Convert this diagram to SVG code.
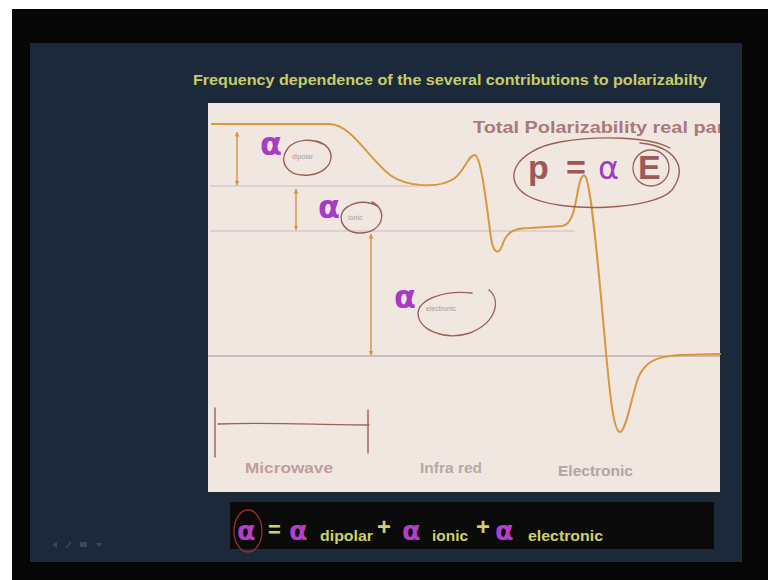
<svg xmlns="http://www.w3.org/2000/svg" width="768" height="580" viewBox="0 0 768 580">
<defs>
<style>
.curve{fill:none;stroke:#d9973f;stroke-width:2;stroke-linejoin:round;stroke-linecap:round}
.guide{stroke:#c9bcc0;stroke-width:1}
.arr{stroke:#d9954a;stroke-width:1.5;fill:none;marker-start:url(#ah);marker-end:url(#ah)}
.ink{fill:none;stroke:#9b5f58;stroke-width:1.4;stroke-linecap:round}
.alpha{font-family:"DejaVu Sans","Liberation Sans",sans-serif;fill:#a53cc4;font-weight:bold}
.sub{font-family:"Liberation Sans",sans-serif;font-size:7px;fill:#a89a9a}
.lab{font-family:"Liberation Sans",sans-serif;font-size:15px;font-weight:bold}
.big{font-family:"Liberation Sans",sans-serif;font-size:34px;font-weight:bold;fill:#9a5a5a}
.fy{font-family:"Liberation Sans",sans-serif;fill:#cfd06a;font-weight:bold}
.fa{font-family:"DejaVu Sans","Liberation Sans",sans-serif;fill:#b43ec8;font-size:27px;font-weight:bold}
</style>
<marker id="ah" viewBox="0 0 10 10" refX="9" refY="5" markerWidth="5" markerHeight="5" orient="auto-start-reverse" markerUnits="userSpaceOnUse">
<path d="M0 0 L10 5 L0 10 z" fill="#d9954a"/>
</marker>
<clipPath id="panelclip"><rect x="208" y="103" width="512" height="389"/></clipPath>
</defs>

<rect width="768" height="580" fill="#ffffff"/>
<rect x="12" y="9" width="756" height="571" fill="#060606"/>
<g id="slide">
<rect x="30" y="43" width="712" height="519" fill="#1c293b"/>
</g>

<g id="title">
<text x="193" y="85" font-family="Liberation Sans, Arial, sans-serif" font-size="14" font-weight="bold" fill="#c6cd68" textLength="514" lengthAdjust="spacingAndGlyphs">Frequency dependence of the several contributions to polarizabilty</text>
</g>

<g id="panel">
<rect x="208" y="103" width="512" height="389" fill="#f1e7e1"/>
<line class="guide" x1="210" y1="186" x2="420" y2="186"/>
<line class="guide" x1="210" y1="231" x2="575" y2="231"/>
<line x1="208" y1="356" x2="720" y2="356" stroke="#a58f95" stroke-width="1"/>
</g>

<g id="curve">
<path class="curve" d="M212 124 L330 124 C352 125 368 158 390 175 C405 186 438 190 455 178 C465 170 469 154 475 155 C481 157 486 200 491 238 C493 252 498 256 502 246 C506 233 512 228 530 228 L562 226 C572 225 575 208 578 190 C580 180 582 174 585 176 C590 180 596 240 604 330 C610 400 614 432 620 432 C626 432 632 395 638 378 C645 362 656 356 680 355 L720 354"/>
</g>

<g id="connectors">
<line class="arr" x1="237" y1="132" x2="237" y2="185"/>
<line class="arr" x1="296" y1="189" x2="296" y2="230"/>
<line class="arr" x1="371" y1="234" x2="371" y2="355"/>
</g>

<g id="alpha-dipolar">
<text class="alpha" x="260" y="155" font-size="32">α</text>
<path class="ink" d="M316 141 C338 146 336 172 309 175 C286 177 278 161 288 148 C296 139 312 138 322 144"/>
<text class="sub" x="292" y="159">dipolar</text>
</g>

<g id="alpha-ionic">
<text class="alpha" x="318" y="218" font-size="32">α</text>
<path class="ink" d="M372 202 C389 210 383 234 359 233 C340 232 335 213 349 206 C357 201 369 201 377 206"/>
<text class="sub" x="348" y="220">ionic</text>
</g>

<g id="alpha-electronic">
<text class="alpha" x="394" y="308" font-size="32">α</text>
<path class="ink" d="M489 290 C501 300 497 322 470 333 C445 341 418 330 418 313 C419 299 445 290 472 293"/>
<text class="sub" x="426" y="311">electronic</text>
</g>

<g id="total-label" clip-path="url(#panelclip)">
<text x="473" y="133" font-family="Liberation Sans, Arial, sans-serif" font-size="17" font-weight="bold" fill="#a87a7a" textLength="258" lengthAdjust="spacingAndGlyphs">Total Polarizability real part</text>
</g>

<g id="equation-p">
<text class="big" x="528" y="179">p</text>
<text class="big" x="566" y="179">=</text>
<text x="598" y="179" font-family="DejaVu Sans, Liberation Sans, sans-serif" font-size="32" fill="#a03cc0">α</text>
<text class="big" x="638" y="179">E</text>
<circle cx="651" cy="168" r="18" fill="none" stroke="#9b5f58" stroke-width="1.3"/>
<path class="ink" d="M640 143 C672 146 690 165 672 190 C655 210 560 214 528 196 C500 180 515 150 560 142 C600 135 650 137 670 148"/>
</g>

<g id="range-bracket">
<path class="ink" stroke="#a54f55" d="M215 408 L215 457 M218 424 C270 422 320 425 369 425 M368 410 L368 453"/>
</g>

<g id="axis-labels">
<text class="lab" x="245" y="473" fill="#c29c9e" textLength="88" lengthAdjust="spacingAndGlyphs">Microwave</text>
<text class="lab" x="420" y="473" fill="#b9a8a8" font-weight="normal" textLength="62" lengthAdjust="spacingAndGlyphs">Infra red</text>
<text class="lab" x="558" y="476" fill="#b3a3a3" font-weight="normal" textLength="75" lengthAdjust="spacingAndGlyphs">Electronic</text>
</g>

<g id="formula">
<rect x="230" y="502" width="484" height="47" fill="#0a0a0b"/>
<text class="fa" x="237" y="540">α</text>
<ellipse cx="248" cy="531" rx="14" ry="21" fill="none" stroke="#9a2e2e" stroke-width="1.3"/>
<text class="fy" x="268" y="537" font-size="22">=</text>
<text class="fa" x="289" y="540">α</text>
<text class="fy" x="320" y="541" font-size="15" textLength="53" lengthAdjust="spacingAndGlyphs">dipolar</text>
<text class="fy" x="377" y="535" font-size="24">+</text>
<text class="fa" x="402" y="540">α</text>
<text class="fy" x="432" y="541" font-size="15" textLength="36" lengthAdjust="spacingAndGlyphs">ionic</text>
<text class="fy" x="476" y="535" font-size="24">+</text>
<text class="fa" x="495" y="540">α</text>
<text class="fy" x="528" y="541" font-size="15" textLength="75" lengthAdjust="spacingAndGlyphs">electronic</text>
</g>

<g id="nav-icons" fill="#3a475a">
<path d="M52 545 L57 542 L57 548 z"/>
<path d="M66 548 L71 542" stroke="#3a475a" stroke-width="1.5"/>
<rect x="80" y="542" width="7" height="5"/>
<path d="M96 543 L102 543 L99 547 z"/>
</g>
</svg>
